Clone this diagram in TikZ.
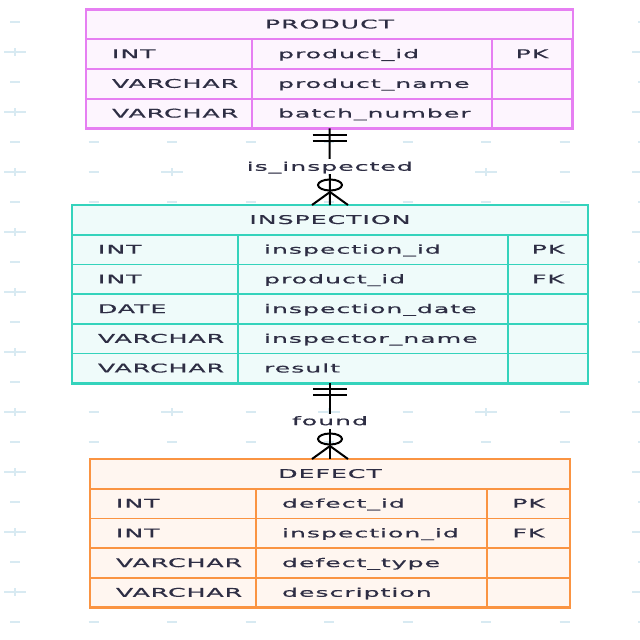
\documentclass[tikz,border=0pt]{standalone}
\usepackage{fontspec}
\setmainfont[FakeStretch=2.1,LetterSpace=8,FakeBold=0.6]{DejaVu Sans}
\usepackage{tikz}
\usetikzlibrary{positioning, calc, fit}
\definecolor{cProd}{HTML}{E67FF2}
\definecolor{cInsp}{HTML}{34D3BC}
\definecolor{cDef}{HTML}{FA9442}
\definecolor{cInk}{HTML}{2E2E44}
\definecolor{cGrid}{HTML}{D8EAF2}
\tikzset{
  cell/.style={rectangle, draw=#1, fill=#1!8, line width=1.8pt, minimum height=29.7pt,
    inner sep=0pt, outer sep=0pt, anchor=north west, text=cInk, text height=9.6pt, text depth=1.4pt},
  typecell/.style={cell=#1, text width=114pt, inner xsep=26pt, align=left},
  namecell/.style={cell=#1, inner xsep=26pt, align=left},
  keycell/.style={cell=#1, align=center},
  headcell/.style={cell=#1, align=center},
  table/.style={rectangle, draw=#1, line width=2.8pt, inner sep=0pt, outer sep=0pt},
  rel/.style={draw=black, line width=2pt},
  rellabel/.style={fill=white, text=cInk, inner sep=2pt, text height=9.6pt, text depth=1.4pt},
}
% one row of an entity: name prefix, anchor, colour, type, field, key
\newcommand{\fieldrow}[6]{%
  \node[typecell=#3] (#1t) at (#2) {#4};
  \node[namecell=#3] (#1n) at (#1t.north east) {#5};
  \node[keycell=#3] (#1k) at (#1n.north east) {#6};}

\begin{document}
\begin{tikzpicture}[x=1pt, y=-1pt, font=\fontsize{12}{14}\selectfont]
\useasboundingbox (0,0) rectangle (640,640);
% background marks
\foreach \r in {0,2,...,20} \foreach \c in {0,...,8}
  \draw[cGrid, line width=1.5pt] (10+78.5*\c,22+30*\r) -- ++(10,0);
\foreach \r in {1,3,...,19} \foreach \c in {1,3,5,7}
  \draw[cGrid, line width=1.5pt] (10+78.5*\c,22+30*\r) -- ++(10,0);
\foreach \r in {1,3,...,19} \foreach \c in {0,2,...,8}
  \draw[cGrid, line width=1.5pt] (4+78.5*\c,22+30*\r) -- ++(22,0) (15+78.5*\c,18+30*\r) -- ++(0,8);

% product
\begin{scope}[namecell/.append style={text width=188pt}, keycell/.append style={minimum width=80pt}]
\node[headcell=cProd, minimum width=487pt] (prodHead) at (86,9.5) {PRODUCT};
\fieldrow{prodA}{prodHead.south west}{cProd}{INT}{product\_id}{PK}
\fieldrow{prodB}{prodAt.south west}{cProd}{VARCHAR}{product\_name}{}
\fieldrow{prodC}{prodBt.south west}{cProd}{VARCHAR}{batch\_number}{}
\node[table=cProd, fit=(prodHead)(prodCk)] (product) {};
\end{scope}

% inspection
\begin{scope}[namecell/.append style={text width=218pt}, keycell/.append style={minimum width=80pt}]
\node[headcell=cInsp, minimum width=516pt] (inspHead) at (72,205) {INSPECTION};
\fieldrow{inspA}{inspHead.south west}{cInsp}{INT}{inspection\_id}{PK}
\fieldrow{inspB}{inspAt.south west}{cInsp}{INT}{product\_id}{FK}
\fieldrow{inspC}{inspBt.south west}{cInsp}{DATE}{inspection\_date}{}
\fieldrow{inspD}{inspCt.south west}{cInsp}{VARCHAR}{inspector\_name}{}
\fieldrow{inspE}{inspDt.south west}{cInsp}{VARCHAR}{result}{}
\node[table=cInsp, fit=(inspHead)(inspEk)] (inspection) {};
\end{scope}

% defect
\begin{scope}[namecell/.append style={text width=179pt}, keycell/.append style={minimum width=83pt}]
\node[headcell=cDef, minimum width=480pt] (defHead) at (90,459) {DEFECT};
\fieldrow{defA}{defHead.south west}{cDef}{INT}{defect\_id}{PK}
\fieldrow{defB}{defAt.south west}{cDef}{INT}{inspection\_id}{FK}
\fieldrow{defC}{defBt.south west}{cDef}{VARCHAR}{defect\_type}{}
\fieldrow{defD}{defCt.south west}{cDef}{VARCHAR}{description}{}
\node[table=cDef, fit=(defHead)(defDk)] (defect) {};
\end{scope}

% product -- inspection
\draw[rel] (product.south) -- (inspection.north);
\draw[rel] ($(product.south)+(-17,7)$) -- ++(34,0) ($(product.south)+(-17,13)$) -- ++(34,0);
\draw[rel] ($(inspection.north)+(-18,0)$) -- ($(inspection.north)+(0,-13)$) -- ($(inspection.north)+(18,0)$);
\draw[rel] ($(inspection.north)+(0,-20)$) ellipse [x radius=12, y radius=5.5];
\node[rellabel] (isInspected) at ($(product.south)!0.5!(inspection.north)$) {is\_inspected};

% inspection -- defect
\draw[rel] (inspection.south) -- (defect.north);
\draw[rel] ($(inspection.south)+(-17,6)$) -- ++(34,0) ($(inspection.south)+(-17,12)$) -- ++(34,0);
\draw[rel] ($(defect.north)+(-18,0)$) -- ($(defect.north)+(0,-13)$) -- ($(defect.north)+(18,0)$);
\draw[rel] ($(defect.north)+(0,-20)$) ellipse [x radius=12, y radius=5.5];
\node[rellabel] (found) at ($(inspection.south)!0.5!(defect.north)$) {found};
\end{tikzpicture}
\end{document}
